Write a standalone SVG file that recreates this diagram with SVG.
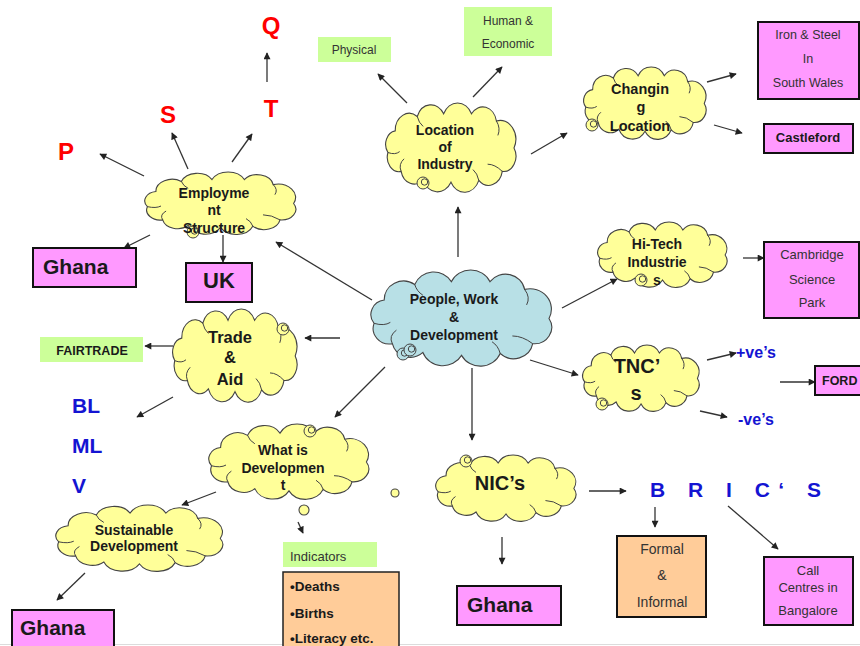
<svg xmlns="http://www.w3.org/2000/svg" xmlns:xlink="http://www.w3.org/1999/xlink" width="860" height="646" viewBox="0 0 860 646">
<style>
text{font-family:"Liberation Sans",Arial,sans-serif;fill:#1a1a1a}
.b{font-weight:bold}
.c{text-anchor:middle}
.cl{font-weight:bold;text-anchor:middle}
.red{fill:#ff0000;font-weight:bold;font-size:24px;text-anchor:middle}
.blue{fill:#1414d2;font-weight:bold}
.sm{fill:#333}
.pink{fill:#ff99ff;stroke:#111;stroke-width:2}
.green{fill:#ccff99}
.orange{fill:#ffcc99;stroke:#222;stroke-width:1.5}
.yel{fill:#ffff99}
.blu{fill:#b8e0e6}
.cp{stroke:#444;stroke-width:1.1}
.ln{stroke:#333;stroke-width:1.3;fill:none;marker-end:url(#ah)}
</style>
<defs>
<marker id="ah" viewBox="0 0 10 10" refX="9" refY="5" markerWidth="8" markerHeight="7" markerUnits="userSpaceOnUse" orient="auto">
<path d="M0,0 L10,5 L0,10 z" fill="#222"/>
</marker>
<g id="cloud">
<path vector-effect="non-scaling-stroke" stroke="#444" stroke-width="1.1" d="M176,50 A17,17 0 0 1 160,76 A19,19 0 0 1 128,86 A21,21 0 0 1 90,88 A21,21 0 0 1 52,85 A18,18 0 0 1 22,76 A16,16 0 0 1 4,55 A15,15 0 0 1 14,31 A19,19 0 0 1 44,15 A20,20 0 0 1 80,12 A21,21 0 0 1 118,12 A19,19 0 0 1 152,20 A21,21 0 0 1 176,50 Z"/>
<path vector-effect="non-scaling-stroke" stroke="#444" stroke-width="1" fill="none" d="M22,76 Q18,68 26,62 M4,55 Q14,58 20,54 M152,20 Q158,28 154,36 M160,76 Q150,68 140,68 M128,86 Q126,78 120,74 M44,15 Q46,22 52,26"/>
</g>
<g id="curl">
<circle cx="0" cy="0" r="6" stroke="#444" stroke-width="1"/>
<circle cx="1.5" cy="-1" r="3.2" fill="none" stroke="#444" stroke-width="1"/>
</g>
</defs>
<rect width="860" height="646" fill="#fff"/>
<line x1="0" y1="644.5" x2="860" y2="644.5" stroke="#dcdcdc" stroke-width="1"/>

<g id="connectors">
<line class="ln" x1="458" y1="257" x2="458" y2="207"/>
<line class="ln" x1="407" y1="103" x2="378" y2="74"/>
<line class="ln" x1="473" y1="97" x2="502" y2="67"/>
<line class="ln" x1="531" y1="154" x2="567" y2="133"/>
<line class="ln" x1="707" y1="82" x2="736" y2="74"/>
<line class="ln" x1="714" y1="125" x2="742" y2="133"/>
<line class="ln" x1="372" y1="300" x2="276" y2="242"/>
<line class="ln" x1="144" y1="176" x2="100" y2="154"/>
<line class="ln" x1="188" y1="169" x2="172" y2="133"/>
<line class="ln" x1="232" y1="162" x2="252" y2="134"/>
<line class="ln" x1="267" y1="82" x2="267" y2="53"/>
<line class="ln" x1="150" y1="235" x2="124" y2="248"/>
<line class="ln" x1="223" y1="235" x2="223" y2="262"/>
<line class="ln" x1="562" y1="308" x2="617" y2="279"/>
<line class="ln" x1="743" y1="258" x2="764" y2="258"/>
<line class="ln" x1="530" y1="360" x2="578" y2="375"/>
<line class="ln" x1="707" y1="360" x2="736" y2="353"/>
<line class="ln" x1="700" y1="411" x2="727" y2="417"/>
<line class="ln" x1="780" y1="382" x2="815" y2="382"/>
<line class="ln" x1="340" y1="338" x2="305" y2="338"/>
<line class="ln" x1="173" y1="346" x2="145" y2="346"/>
<line class="ln" x1="173" y1="397" x2="137" y2="417"/>
<line class="ln" x1="385" y1="367" x2="335" y2="417"/>
<line class="ln" x1="216" y1="492" x2="182" y2="505"/>
<line class="ln" x1="85" y1="573" x2="57" y2="600"/>
<line class="ln" x1="298" y1="522" x2="303" y2="533"/>
<line class="ln" x1="472" y1="368" x2="472" y2="440"/>
<line class="ln" x1="589" y1="491" x2="626" y2="491"/>
<line class="ln" x1="655" y1="507" x2="655" y2="527"/>
<line class="ln" x1="728" y1="506" x2="778" y2="549"/>
<line class="ln" x1="502" y1="537" x2="502" y2="564"/>
</g>

<g id="center">
<use xlink:href="#cloud" class="blu" transform="translate(370,270) scale(1.017,0.97)"/>
<use xlink:href="#curl" class="blu" x="403" y="354"/>
<use xlink:href="#curl" class="blu" x="410" y="350"/>
<text class="cl" x="454" y="304" font-size="14">People, Work</text>
<text class="cl" x="454" y="322" font-size="14">&amp;</text>
<text class="cl" x="454" y="340" font-size="14">Development</text>
</g>

<g id="location">
<use xlink:href="#cloud" class="yel" transform="translate(385,103) scale(0.733,0.9)"/>
<use xlink:href="#curl" class="yel" x="423" y="183"/>
<text class="cl" x="445" y="135" font-size="14">Location</text>
<text class="cl" x="445" y="152" font-size="14">of</text>
<text class="cl" x="445" y="169" font-size="14">Industry</text>
</g>
<g id="physical">
<rect class="green" x="318" y="37" width="73" height="25"/>
<text class="sm c" x="354" y="54" font-size="12">Physical</text>
</g>
<g id="human">
<rect class="green" x="464" y="7" width="88" height="49"/>
<text class="sm c" x="508" y="25" font-size="12">Human &amp;</text>
<text class="sm c" x="508" y="48" font-size="12">Economic</text>
</g>

<g id="changing">
<use xlink:href="#cloud" class="yel" transform="translate(583,67) scale(0.689,0.73)"/>
<use xlink:href="#curl" class="yel" x="592" y="125"/>
<text class="cl" x="640" y="94" font-size="14.5">Changin</text>
<text class="cl" x="641" y="112" font-size="14.5">g</text>
<text class="cl" x="640" y="131" font-size="14.5">Location</text>
</g>
<g id="ironsteel">
<rect class="pink" x="758" y="22" width="101" height="77"/>
<text class="sm c" x="808" y="39" font-size="12.5">Iron &amp; Steel</text>
<text class="sm c" x="808" y="63" font-size="12.5">In</text>
<text class="sm c" x="808" y="87" font-size="12.5">South Wales</text>
</g>
<g id="castleford">
<rect class="pink" x="764" y="124" width="89" height="29"/>
<text class="b c" x="808" y="142" font-size="13">Castleford</text>
</g>

<g id="employment">
<use xlink:href="#cloud" class="yel" transform="translate(144,172) scale(0.85,0.63)"/>
<use xlink:href="#curl" class="yel" x="193" y="232"/>
<text class="cl" x="214" y="198" font-size="14">Employme</text>
<text class="cl" x="214" y="215" font-size="14">nt</text>
<text class="cl" x="214" y="233" font-size="14">Structure</text>
</g>
<g id="p"><text class="red" x="66" y="160">P</text></g>
<g id="s"><text class="red" x="168" y="123">S</text></g>
<g id="t"><text class="red" x="271" y="117">T</text></g>
<g id="q"><text class="red" x="271" y="34">Q</text></g>
<g id="ghana1">
<rect class="pink" x="33" y="248" width="103" height="39"/>
<text class="b" x="43" y="274" font-size="21">Ghana</text>
</g>
<g id="uk">
<rect class="pink" x="186" y="263" width="66" height="39"/>
<text class="b" x="203" y="288" font-size="22">UK</text>
</g>

<g id="hitech">
<use xlink:href="#cloud" class="yel" transform="translate(597,222) scale(0.728,0.66)"/>
<use xlink:href="#curl" class="yel" x="641" y="280"/>
<text class="cl" x="657" y="249" font-size="14">Hi-Tech</text>
<text class="cl" x="657" y="267" font-size="14">Industrie</text>
<text class="cl" x="657" y="285" font-size="14">s</text>
</g>
<g id="cambridge">
<rect class="pink" x="764" y="242" width="95" height="76"/>
<text class="sm c" x="812" y="259" font-size="13">Cambridge</text>
<text class="sm c" x="812" y="284" font-size="13">Science</text>
<text class="sm c" x="812" y="307" font-size="13">Park</text>
</g>

<g id="tnc">
<use xlink:href="#cloud" class="yel" transform="translate(582,345) scale(0.656,0.67)"/>
<use xlink:href="#curl" class="yel" x="602" y="404"/>
<text class="cl" x="637" y="373" font-size="20">TNC’</text>
<text class="cl" x="636" y="400" font-size="20">s</text>
</g>
<g id="pos"><text class="blue" x="736" y="358" font-size="16">+ve’s</text></g>
<g id="neg"><text class="blue" x="738" y="425" font-size="16">-ve’s</text></g>
<g id="ford">
<rect class="pink" x="815" y="366" width="50" height="29"/>
<text class="b" x="822" y="385" font-size="12.5">FORD</text>
</g>

<g id="trade">
<use xlink:href="#cloud" class="yel" transform="translate(172,309) scale(0.7,0.94)"/>
<use xlink:href="#curl" class="yel" x="283" y="329"/>
<text class="cl" x="230" y="343" font-size="16.5">Trade</text>
<text class="cl" x="230" y="363" font-size="16.5">&amp;</text>
<text class="cl" x="230" y="385" font-size="16.5">Aid</text>
</g>
<g id="fairtrade">
<rect class="green" x="40" y="337" width="103" height="25"/>
<text class="b c" x="92" y="355" font-size="12.5">FAIRTRADE</text>
</g>
<g id="bl"><text class="blue" x="72" y="413" font-size="21">BL</text></g>
<g id="ml"><text class="blue" x="72" y="453" font-size="21">ML</text></g>
<g id="v"><text class="blue" x="72" y="493" font-size="21">V</text></g>

<g id="whatis">
<use xlink:href="#cloud" class="yel" transform="translate(208,424) scale(0.9,0.76)"/>
<use xlink:href="#curl" class="yel" x="310" y="431"/>
<circle cx="304" cy="510" r="5" class="yel cp"/>
<circle cx="395" cy="493" r="4" class="yel cp"/>
<text class="cl" x="283" y="455" font-size="14">What is</text>
<text class="cl" x="283" y="473" font-size="14">Developmen</text>
<text class="cl" x="283" y="490" font-size="14">t</text>
</g>
<g id="sustainable">
<use xlink:href="#cloud" class="yel" transform="translate(55,505) scale(0.939,0.67)"/>
<text class="cl" x="134" y="535" font-size="14">Sustainable</text>
<text class="cl" x="134" y="551" font-size="14">Development</text>
</g>
<g id="ghana2">
<rect class="pink" x="12" y="610" width="102" height="40"/>
<text class="b" x="20" y="635" font-size="21">Ghana</text>
</g>
<g id="indicators">
<rect class="green" x="283" y="542" width="94" height="25"/>
<text class="sm" x="290" y="561" font-size="13">Indicators</text>
</g>
<g id="deaths">
<rect class="orange" x="283" y="572" width="116" height="80"/>
<text class="b" x="290" y="591" font-size="13.5">•Deaths</text>
<text class="b" x="290" y="618" font-size="13.5">•Births</text>
<text class="b" x="290" y="643" font-size="13.5">•Literacy etc.</text>
</g>

<g id="nics">
<use xlink:href="#cloud" class="yel" transform="translate(435,455) scale(0.789,0.67)"/>
<use xlink:href="#curl" class="yel" x="466" y="461"/>
<text class="cl" x="500" y="490" font-size="20">NIC’s</text>
</g>
<g id="brics"><text class="blue" x="650" y="497" font-size="21" letter-spacing="8.5">B R I C‘ S</text></g>
<g id="ghana3">
<rect class="pink" x="457" y="586" width="104" height="39"/>
<text class="b" x="467" y="612" font-size="21">Ghana</text>
</g>
<g id="formal">
<rect class="orange" x="617" y="536" width="89" height="81" style="stroke:#111;stroke-width:2"/>
<text class="sm c" x="662" y="554" font-size="14">Formal</text>
<text class="sm c" x="662" y="580" font-size="14">&amp;</text>
<text class="sm c" x="662" y="607" font-size="14">Informal</text>
</g>
<g id="callcentres">
<rect class="pink" x="764" y="557" width="89" height="68"/>
<text class="sm c" x="808" y="575" font-size="13">Call</text>
<text class="sm c" x="808" y="592" font-size="13">Centres in</text>
<text class="sm c" x="808" y="615" font-size="13">Bangalore</text>
</g>
</svg>
